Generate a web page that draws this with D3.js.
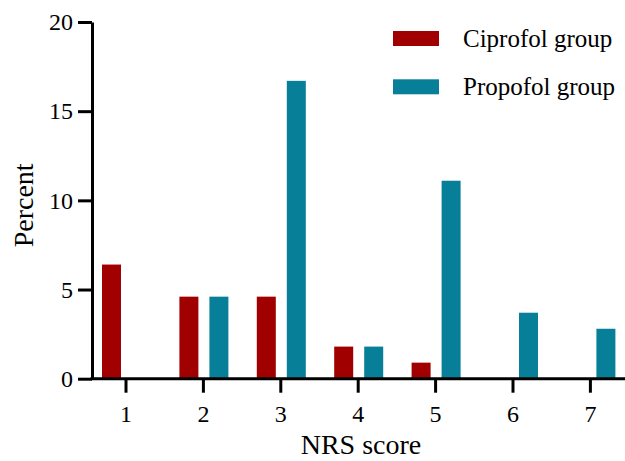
<!DOCTYPE html>
<html>
<head>
<meta charset="utf-8">
<script src="https://cdn.jsdelivr.net/npm/d3@7"></script>
<style>
  body { margin: 0; background: #fff; }
  text { font-family: "Liberation Serif", "Times New Roman", serif; fill: #000; }
</style>
</head>
<body>
<div class="chart-box"></div>
<script>
// ---------------------------//
//            DATA            //
// ---------------------------//
const scores = ["1", "2", "3", "4", "5", "6", "7"];
const seriesNames = ["Ciprofol group", "Propofol group"];
const ciprofol = [6.4, 4.6, 4.6, 1.8, 0.9, 0, 0];
const propofol = [0, 4.6, 16.7, 1.8, 11.1, 3.7, 2.8];
const yTicks = [0, 5, 10, 15, 20];

const colors = ["#a00000", "#077f98"];

const WIDTH = 625, HEIGHT = 461;
const MARGIN = { left: 92, top: 22, bottom: 83 };

const svg = d3.select(".chart-box").append("svg")
    .attr("width", WIDTH)
    .attr("height", HEIGHT);

// ---------------------------//
//       AXIS AND SCALE       //
// ---------------------------//
const yScale = d3.scaleLinear()
    .domain([0, 20])
    .range([HEIGHT - MARGIN.bottom + 0.7, MARGIN.top]);

const step = 77.4;
const xScale = d3.scaleBand()
    .domain(scores)
    .range([126 - step / 2, 126 - step / 2 + step * scores.length]);

// inner scale for the two bars of a group
const xInner = d3.scaleBand()
    .domain(seriesNames)
    .range([-24, 25])
    .paddingInner(0.367);

const rows = scores.map((s, i) => ({ score: s, values: [ciprofol[i], propofol[i]] }));

// ---------------------------//
//            BARS            //
// ---------------------------//
const groups = svg.selectAll(".group")
    .data(rows)
    .enter()
    .append("g")
    .attr("transform", d => `translate(${xScale(d.score) + xScale.bandwidth() / 2},0)`);

groups.selectAll("rect")
    .data(d => d.values.map((v, j) => ({ name: seriesNames[j], value: v, j: j })))
    .enter()
    .filter(d => d.value > 0)
    .append("rect")
    .attr("x", d => xInner(d.name))
    .attr("width", xInner.bandwidth())
    .attr("y", d => yScale(d.value))
    .attr("height", d => yScale(0) - yScale(d.value))
    .attr("fill", d => colors[d.j]);

// y axis
const yAxis = svg.append("g")
    .attr("transform", `translate(${MARGIN.left},0)`)
    .call(d3.axisLeft(yScale).tickValues(yTicks).tickSize(14).tickSizeOuter(0).tickPadding(5));

yAxis.select(".domain").attr("stroke-width", 3).attr("stroke", "#000");
yAxis.selectAll(".tick line").attr("stroke-width", 3).attr("stroke", "#000");
yAxis.selectAll(".tick text")
    .style("font-family", "'Liberation Serif', 'Times New Roman', serif")
    .style("font-size", "24px")
    .attr("fill", "#000");

// x axis
const xAxis = svg.append("g")
    .attr("transform", `translate(0,${yScale(0)})`)
    .call(d3.axisBottom(xScale).tickSize(14).tickPadding(12));

xAxis.select(".domain").remove();
xAxis.append("line")
    .attr("x1", MARGIN.left - 1.5)
    .attr("x2", xScale.range()[1])
    .attr("stroke", "#000")
    .attr("stroke-width", 3);
xAxis.selectAll(".tick line").attr("stroke-width", 3).attr("stroke", "#000");
xAxis.selectAll(".tick text")
    .style("font-family", "'Liberation Serif', 'Times New Roman', serif")
    .style("font-size", "24px")
    .attr("fill", "#000");

// axis titles
svg.append("text")
    .attr("x", 361)
    .attr("y", 454)
    .attr("text-anchor", "middle")
    .style("font-size", "28px")
    .text("NRS score");

svg.append("text")
    .attr("transform", `translate(33,${(yScale(0) + yScale(20)) / 2 + 5}) rotate(-90)`)
    .attr("text-anchor", "middle")
    .style("font-size", "28px")
    .text("Percent");

// ---------------------------//
//           LEGEND           //
// ---------------------------//
const legend = svg.selectAll(".legend")
    .data(seriesNames)
    .enter()
    .append("g")
    .attr("transform", (d, i) => `translate(393,${31 + i * 48.3})`);

legend.append("rect")
    .attr("width", 46)
    .attr("height", 15)
    .attr("fill", (d, i) => colors[i]);

legend.append("text")
    .attr("x", 70)
    .attr("y", 16)
    .style("font-size", "25px")
    .text(d => d);
</script>
</body>
</html>
